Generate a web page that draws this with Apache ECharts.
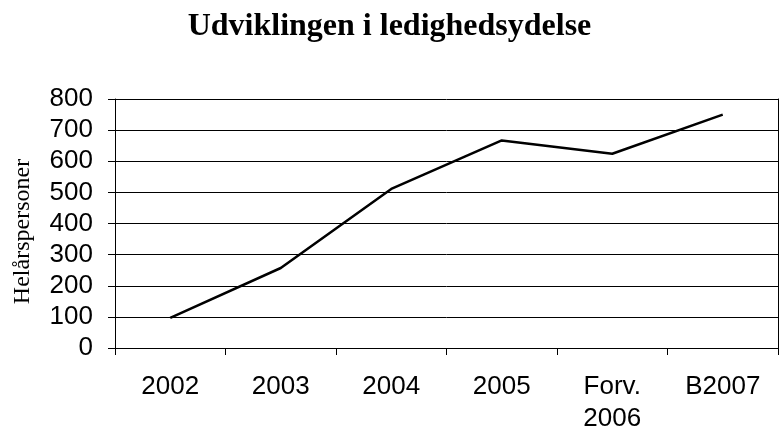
<!DOCTYPE html>
<html>
<head>
<meta charset="utf-8">
<script src="https://cdn.jsdelivr.net/npm/echarts@6/dist/echarts.min.js"></script>
<style>
  html, body { margin: 0; padding: 0; background: #fff; }
  #chart { width: 779px; height: 435px; }
</style>
</head>
<body>
<div id="chart"></div>
<script>
// data
const categories = ["2002", "2003", "2004", "2005", "Forv.\n2006", "B2007"];
const values = [97, 257, 511, 667, 624, 750];
const yTicks = [0, 100, 200, 300, 400, 500, 600, 700, 800];

const chart = echarts.init(document.getElementById("chart"));
const option = {
  animation: false,
  backgroundColor: "#fff",
  title: {
    text: "Udviklingen i ledighedsydelse",
    left: "center",
    top: 6,
    textStyle: {
      fontFamily: "Liberation Serif",
      fontWeight: "bold",
      fontSize: 32,
      color: "#000",
    },
  },
  grid: { left: 115, right: 1, top: 99, bottom: 82 },
  xAxis: {
    type: "category",
    data: categories,
    boundaryGap: true,
    axisLine: { lineStyle: { color: "#000", width: 1 } },
    axisTick: { show: true, length: 7, lineStyle: { color: "#000" } },
    axisLabel: {
      margin: 23,
      fontFamily: "Liberation Sans",
      fontSize: 26,
      color: "#000",
      lineHeight: 32,
    },
  },
  yAxis: [
    {
      type: "value",
      min: yTicks[0],
      max: yTicks[yTicks.length - 1],
      interval: 100,
      name: "Helårspersoner",
      nameLocation: "middle",
      nameGap: 80,
      nameTextStyle: {
        fontFamily: "Liberation Serif",
        fontSize: 24,
        color: "#000",
        padding: [0, 16, 0, 0],
      },
      axisLine: { show: true, lineStyle: { color: "#000", width: 1 } },
      axisTick: { show: true, length: 7, lineStyle: { color: "#000" } },
      axisLabel: {
        margin: 22,
        fontFamily: "Liberation Sans",
        fontSize: 26,
        color: "#000",
      },
      splitLine: { show: true, lineStyle: { color: "#000", width: 1 } },
    },
    {
      type: "value",
      position: "right",
      min: yTicks[0],
      max: yTicks[yTicks.length - 1],
      interval: 100,
      axisLine: { show: true, lineStyle: { color: "#000", width: 1 } },
      axisTick: { show: false },
      axisLabel: { show: false },
      splitLine: { show: false },
    },
  ],
  series: [
    {
      type: "line",
      data: values,
      showSymbol: false,
      symbol: "none",
      lineStyle: { color: "#000", width: 2.5 },
    },
  ],
};
chart.setOption(option);
</script>
</body>
</html>
